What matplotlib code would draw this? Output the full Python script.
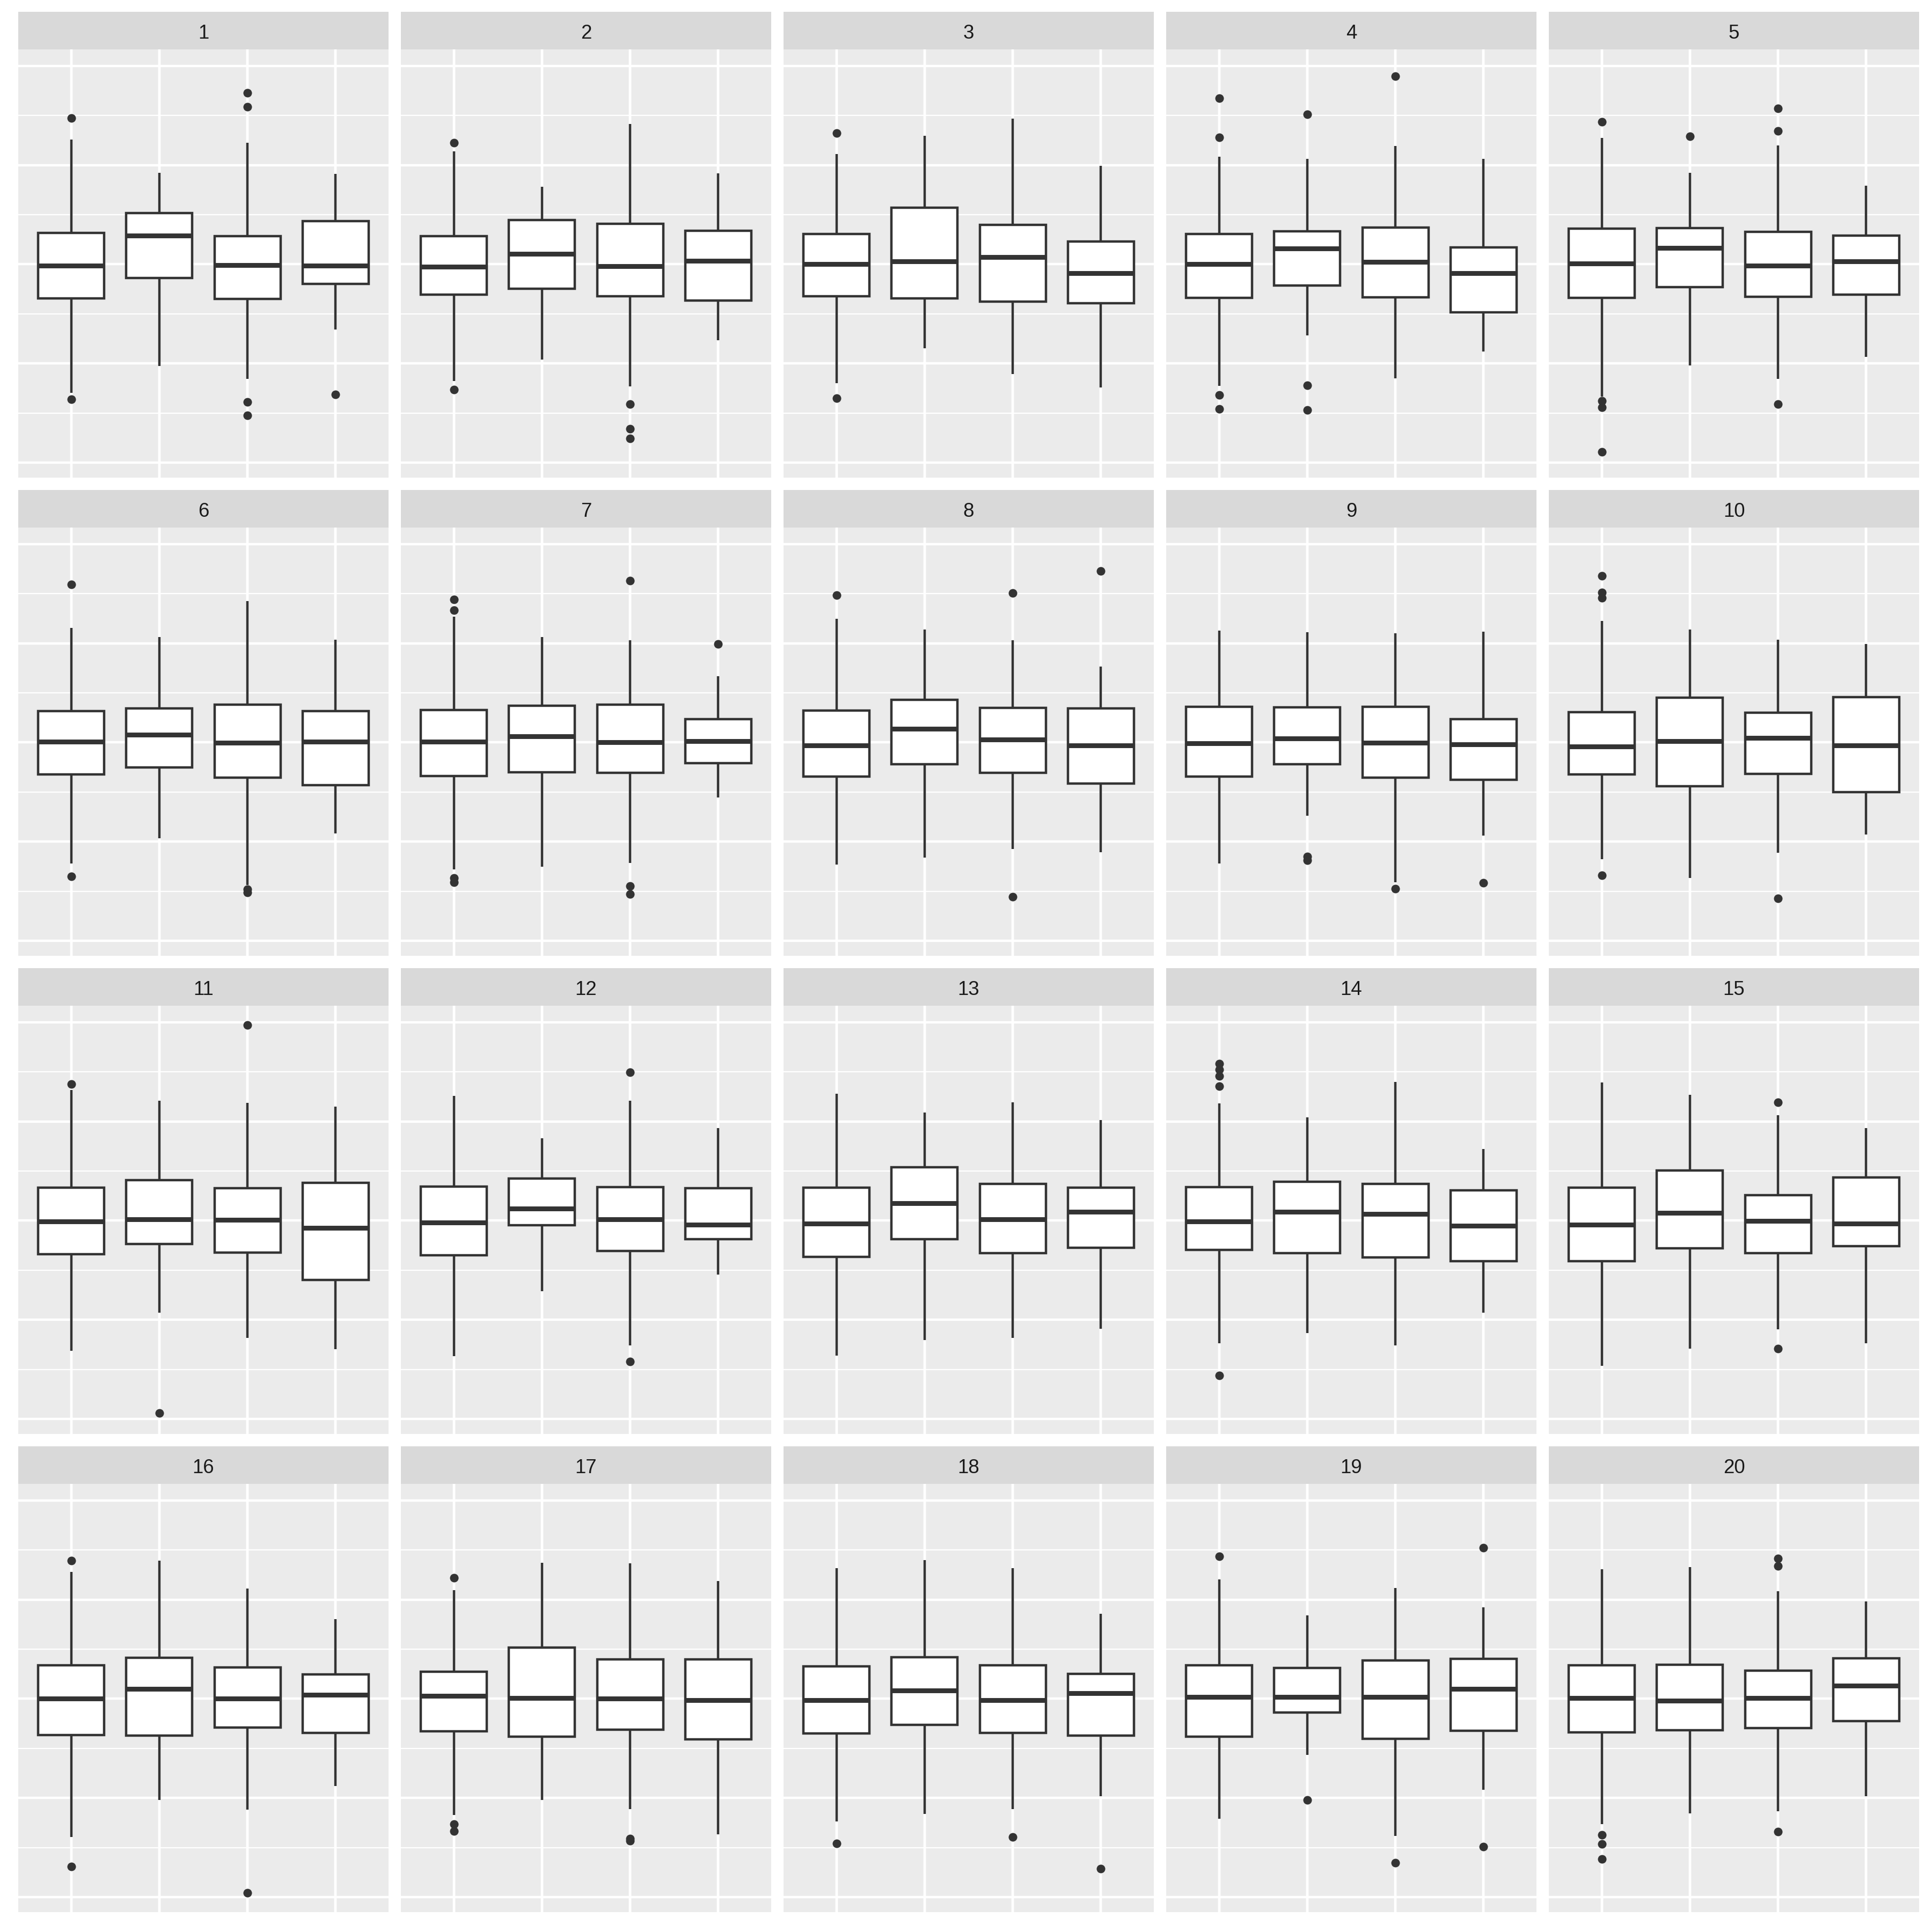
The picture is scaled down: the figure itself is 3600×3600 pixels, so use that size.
import matplotlib
matplotlib.use("Agg")
import matplotlib.pyplot as plt

# ---------------- data ----------------
panels = [str(i) for i in range(1, 21)]
groups = [1, 2, 3, 4]

whisker_low = [
    [-2.59, -2.05, -2.31, -1.32],
    [-2.35, -1.92, -2.46, -1.53],
    [-2.40, -1.69, -2.21, -2.49],
    [-2.45, -1.44, -2.30, -1.76],
    [-2.67, -2.04, -2.31, -1.87],
    [-2.44, -1.93, -2.87, -1.83],
    [-2.56, -2.51, -2.43, -1.11],
    [-2.46, -2.32, -2.15, -2.21],
    [-2.44, -1.48, -2.82, -1.88],
    [-2.35, -2.73, -2.22, -1.86],
    [-2.63, -1.86, -2.37, -2.59],
    [-2.73, -1.42, -2.52, -1.09],
    [-2.72, -2.41, -2.37, -2.18],
    [-2.47, -2.27, -2.52, -1.86],
    [-2.93, -2.58, -2.19, -2.47],
    [-2.79, -2.04, -2.24, -1.76],
    [-2.34, -2.04, -2.23, -2.73],
    [-2.47, -2.32, -2.23, -1.96],
    [-2.42, -1.13, -2.77, -1.83],
    [-2.53, -2.31, -2.27, -1.97],
]
q1 = [
    [-0.69, -0.28, -0.70, -0.40],
    [-0.61, -0.49, -0.64, -0.73],
    [-0.65, -0.69, -0.75, -0.79],
    [-0.68, -0.43, -0.67, -0.97],
    [-0.68, -0.46, -0.66, -0.61],
    [-0.65, -0.50, -0.71, -0.86],
    [-0.68, -0.60, -0.61, -0.42],
    [-0.69, -0.44, -0.61, -0.83],
    [-0.69, -0.44, -0.71, -0.75],
    [-0.65, -0.88, -0.63, -1.00],
    [-0.68, -0.47, -0.64, -1.20],
    [-0.70, -0.09, -0.61, -0.37],
    [-0.73, -0.37, -0.66, -0.55],
    [-0.59, -0.66, -0.74, -0.82],
    [-0.82, -0.56, -0.66, -0.51],
    [-0.73, -0.74, -0.58, -0.69],
    [-0.66, -0.76, -0.62, -0.82],
    [-0.70, -0.53, -0.69, -0.74],
    [-0.76, -0.28, -0.81, -0.64],
    [-0.68, -0.63, -0.59, -0.45],
]
median = [
    [-0.03, 0.58, -0.02, -0.03],
    [-0.05, 0.21, -0.04, 0.07],
    [0.00, 0.06, 0.15, -0.18],
    [0.00, 0.32, 0.05, -0.18],
    [0.02, 0.33, -0.03, 0.06],
    [0.02, 0.16, -0.01, 0.02],
    [0.02, 0.12, 0.00, 0.03],
    [-0.06, 0.27, 0.06, -0.06],
    [-0.02, 0.08, -0.01, -0.04],
    [-0.08, 0.03, 0.09, -0.06],
    [-0.02, 0.03, 0.02, -0.15],
    [-0.04, 0.24, 0.03, -0.08],
    [-0.06, 0.35, 0.03, 0.18],
    [-0.02, 0.18, 0.13, -0.10],
    [-0.08, 0.16, -0.01, -0.06],
    [0.00, 0.20, 0.00, 0.08],
    [0.06, 0.02, 0.00, -0.03],
    [-0.03, 0.17, -0.03, 0.11],
    [0.04, 0.04, 0.04, 0.20],
    [0.01, -0.04, 0.01, 0.26],
]
q3 = [
    [0.63, 1.03, 0.57, 0.87],
    [0.57, 0.89, 0.82, 0.68],
    [0.61, 1.14, 0.79, 0.46],
    [0.61, 0.66, 0.74, 0.34],
    [0.72, 0.73, 0.65, 0.58],
    [0.63, 0.69, 0.76, 0.63],
    [0.65, 0.74, 0.76, 0.47],
    [0.64, 0.86, 0.70, 0.69],
    [0.72, 0.71, 0.72, 0.47],
    [0.61, 0.90, 0.60, 0.91],
    [0.66, 0.82, 0.65, 0.76],
    [0.69, 0.85, 0.68, 0.65],
    [0.66, 1.08, 0.74, 0.66],
    [0.67, 0.78, 0.74, 0.61],
    [0.66, 1.01, 0.51, 0.87],
    [0.68, 0.83, 0.63, 0.49],
    [0.55, 1.03, 0.79, 0.79],
    [0.65, 0.84, 0.67, 0.50],
    [0.67, 0.62, 0.77, 0.80],
    [0.67, 0.69, 0.57, 0.82],
]
whisker_high = [
    [2.51, 1.84, 2.45, 1.82],
    [2.28, 1.56, 2.83, 1.83],
    [2.22, 2.59, 2.94, 1.98],
    [2.17, 2.13, 2.39, 2.13],
    [2.55, 1.84, 2.40, 1.58],
    [2.31, 2.12, 2.85, 2.07],
    [2.54, 2.13, 2.06, 1.34],
    [2.49, 2.28, 2.06, 1.53],
    [2.25, 2.22, 2.20, 2.23],
    [2.45, 2.28, 2.07, 1.98],
    [2.63, 2.42, 2.37, 2.30],
    [2.52, 1.66, 2.42, 1.86],
    [2.56, 2.18, 2.39, 2.03],
    [2.36, 2.08, 2.80, 1.44],
    [2.78, 2.54, 2.12, 1.86],
    [2.56, 2.78, 2.22, 1.61],
    [2.19, 2.74, 2.73, 2.37],
    [2.63, 2.80, 2.63, 1.71],
    [2.41, 1.68, 2.23, 1.84],
    [2.61, 2.66, 2.17, 1.96],
]
outliers = [
    [[2.95, -2.72], [], [3.46, 3.17, -2.78, -3.05], [-2.63]],
    [[2.45, -2.53], [], [-2.82, -3.32, -3.51], []],
    [[2.64, -2.70], [], [], []],
    [[3.35, 2.56, -2.64, -2.92], [3.02, -2.44, -2.94], [3.79], []],
    [[2.87, -2.76, -2.89, -3.78], [2.58], [3.14, 2.69, -2.82], []],
    [[3.19, -2.70], [], [-2.96, -3.03], []],
    [[2.88, 2.67, -2.73, -2.82], [], [3.26, -2.90, -3.06], [1.98]],
    [[2.97], [], [3.01, -3.11], [3.46]],
    [[], [-2.30, -2.38], [-2.95], [-2.83]],
    [[3.36, 3.02, 2.91, -2.68], [], [-3.14], []],
    [[2.75], [-3.88], [3.94], []],
    [[], [], [2.99, -2.84], []],
    [[], [], [], []],
    [[3.16, 3.05, 2.91, 2.71, -3.12], [], [], []],
    [[], [], [2.38, -2.58], []],
    [[2.79, -3.38], [], [-3.91], []],
    [[2.44, -2.53, -2.67], [], [-2.82, -2.86], []],
    [[-2.92], [], [-2.79], [-3.43]],
    [[2.87], [-2.04], [-3.31], [3.05, -2.98]],
    [[-2.74, -2.93, -3.23], [], [2.83, 2.68, -2.68], []],
]

# ---------------- styling ----------------
INK = "#333333"
PANEL_BG = "#EBEBEB"
STRIP_BG = "#D9D9D9"
STRIP_TXT = "#1A1A1A"
LW = 1.07  # ggplot linewidth 0.5 at 300 dpi

plt.rcParams["font.family"] = ["Liberation Sans", "DejaVu Sans"]

W = H = 3600
fig = plt.figure(figsize=(12, 12), dpi=300)
fig.patch.set_facecolor("white")

left0, col_w, col_gap = 34, 690, 23
top0, strip_h, panel_h, row_gap = 22, 70, 798, 23

all_vals = [v for p in range(20) for g in range(4)
            for v in (whisker_low[p][g], whisker_high[p][g], *outliers[p][g])]
lo, hi = min(all_vals), max(all_vals)
pad = 0.05 * (hi - lo)
ylim = (lo - pad, hi + pad)

for p in range(20):
    r, c = divmod(p, 5)
    x0 = left0 + c * (col_w + col_gap)
    st = top0 + r * (strip_h + panel_h + row_gap)
    pt = st + strip_h
    ax = fig.add_axes([x0 / W, 1 - (pt + panel_h) / H, col_w / W, panel_h / H])
    sax = fig.add_axes([x0 / W, 1 - pt / H, col_w / W, strip_h / H])

    # strip
    sax.set_facecolor(STRIP_BG)
    sax.set_xticks([])
    sax.set_yticks([])
    for s in sax.spines.values():
        s.set_visible(False)
    sax.text(0.5, 0.28, panels[p], ha="center", va="baseline",
             fontsize=8.8, color=STRIP_TXT, transform=sax.transAxes)

    # panel
    ax.set_facecolor(PANEL_BG)
    for s in ax.spines.values():
        s.set_visible(False)
    ax.set_axisbelow(True)
    ax.set_xticks(groups)
    ax.set_yticks([-4, -2, 0, 2, 4])
    ax.set_yticks([-3, -1, 1, 3], minor=True)
    ax.grid(which="major", color="white", linewidth=LW)
    ax.grid(which="minor", axis="y", color="white", linewidth=LW / 2)
    ax.tick_params(which="both", length=0, labelbottom=False, labelleft=False)

    stats = []
    for g in range(4):
        stats.append(dict(
            whislo=whisker_low[p][g], q1=q1[p][g], med=median[p][g],
            q3=q3[p][g], whishi=whisker_high[p][g], fliers=outliers[p][g],
        ))
    ax.bxp(stats, positions=groups, widths=0.75, showcaps=False,
           patch_artist=True,
           boxprops=dict(facecolor="white", edgecolor=INK, linewidth=LW),
           medianprops=dict(color=INK, linewidth=2 * LW, solid_capstyle="butt"),
           whiskerprops=dict(color=INK, linewidth=LW, solid_capstyle="butt"),
           flierprops=dict(marker="o", markersize=3.85, markerfacecolor=INK,
                           markeredgecolor="none", linestyle="none"))
    ax.set_xlim(0.4, 4.6)
    ax.set_ylim(*ylim)

fig.savefig("out.png", dpi=300, facecolor="white")
